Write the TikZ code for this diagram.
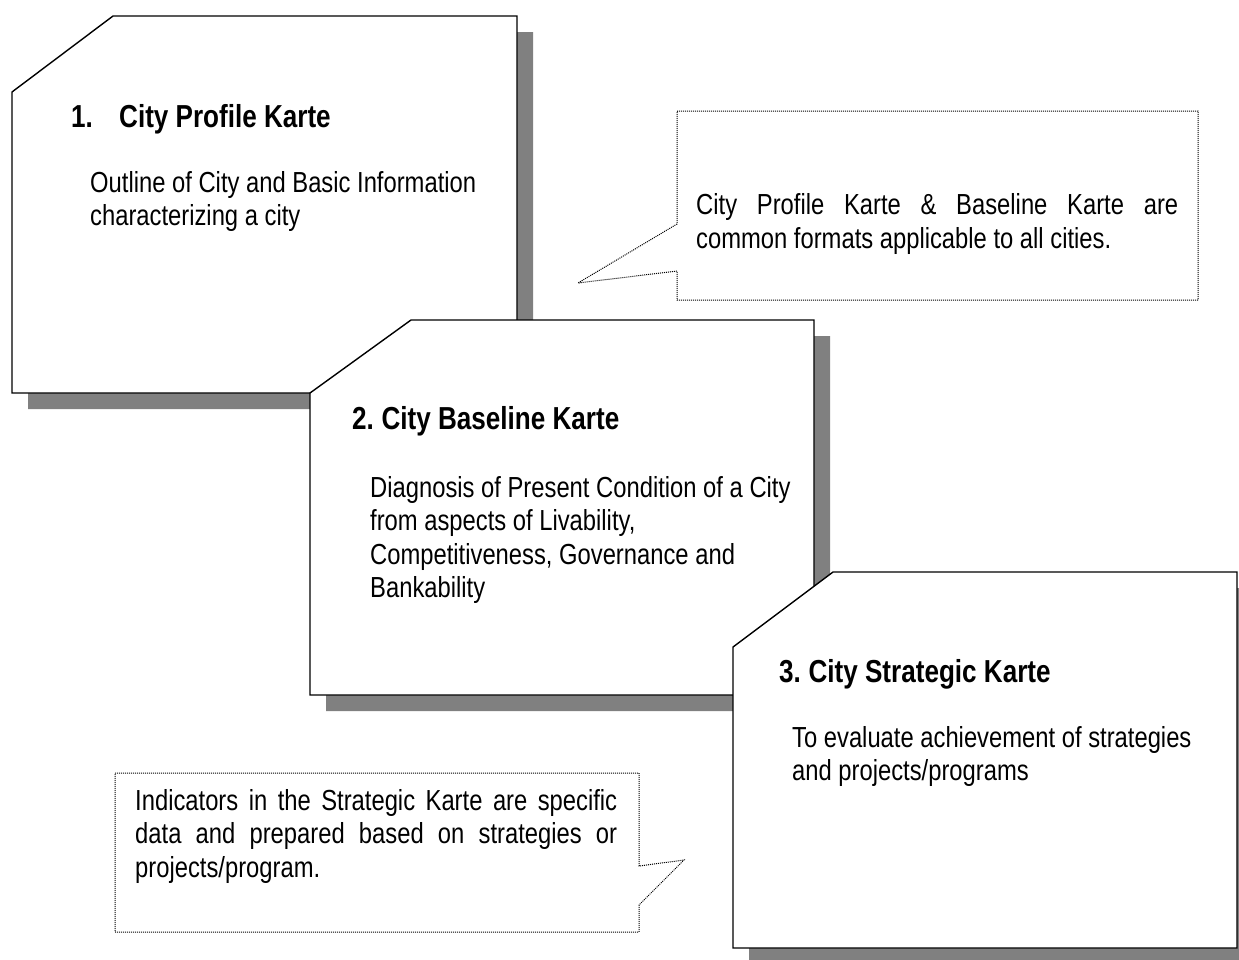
\documentclass[tikz,border=0pt]{standalone}
\usepackage{fontspec}
\setmainfont{Liberation Sans}[FakeStretch=0.82]
\definecolor{shadowgray}{RGB}{128,128,128}
\begin{document}
\begin{tikzpicture}[x=1pt,y=-1pt,
  card/.style={draw=black,line width=1.4pt,fill=white,line join=miter},
  cardshadow/.style={fill=shadowgray,draw=none},
  callout/.style={draw=black,line width=1pt,dash pattern=on 1pt off 1pt,fill=white},
  head/.style={anchor=base west,inner sep=0pt,font=\fontsize{31.8}{36}\selectfont\bfseries},
  body/.style={anchor=base west,inner sep=0pt,font=\fontsize{29}{33.5}\selectfont},
  note/.style={anchor=base west,inner sep=0pt,font=\fontsize{29}{33.5}\selectfont}]
\useasboundingbox (0,0) rectangle (1239,959);
\clip (0,0) rectangle (1239,959);

% card 1: City Profile Karte
\fill[cardshadow] (129,32) -- (533,32) -- (533,409) -- (28,409) -- (28,108) -- cycle;
\draw[card] (113,16) -- (517,16) -- (517,393) -- (12,393) -- (12,92) -- cycle;
\node[head] (h1) at (71,127) {\makebox[48pt][l]{1.}City Profile Karte};
\node[body] (b1a) at (90,192) {Outline of City and Basic Information};
\node[body] (b1b) at (90,225.5) {characterizing a city};

% card 2: City Baseline Karte
\fill[cardshadow] (427,336) -- (830,336) -- (830,711) -- (326,711) -- (326,409) -- cycle;
\draw[card] (411,320) -- (814,320) -- (814,695) -- (310,695) -- (310,393) -- cycle;
\node[head] (h2) at (352,429) {2.\kern-2pt{} City Baseline Karte};
\node[body] (b2a) at (370,497) {Diagnosis of Present Condition of a City};
\node[body] (b2b) at (370,530.5) {from aspects of Livability,};
\node[body] (b2c) at (370,564) {Competitiveness, Governance and};
\node[body] (b2d) at (370,597.5) {Bankability};

% card 3: City Strategic Karte
\fill[cardshadow] (849,588) -- (1253,588) -- (1253,964) -- (749,964) -- (749,663) -- cycle;
\draw[card] (833,572) -- (1237,572) -- (1237,948) -- (733,948) -- (733,647) -- cycle;
\node[head] (h3) at (779,682) {3.\kern-2pt{} City Strategic Karte};
\node[body] (b3a) at (792,747) {To evaluate achievement of strategies};
\node[body] (b3b) at (792,780.5) {and projects/programs};

% callout on common formats
\draw[callout] (677,111) -- (1198,111) -- (1198,300) -- (677,300) -- (677,271)
  -- (578,283) -- (677,224) -- cycle;
\node[note] (n1a) at (696,214.5) {\makebox[482pt][s]{City Profile Karte \& Baseline Karte are}};
\node[note] (n1b) at (696,248) {common formats applicable to all cities.};

% callout on strategic indicators
\draw[callout] (115,773) -- (639,773) -- (639,866) -- (684,860) -- (639,905)
  -- (639,932) -- (115,932) -- cycle;
\node[note] (n2a) at (135,810) {\makebox[482pt][s]{Indicators in the Strategic Karte are specific}};
\node[note] (n2b) at (135,843.5) {\makebox[482pt][s]{data and prepared based on strategies or}};
\node[note] (n2c) at (135,877) {projects/program.};
\end{tikzpicture}
\end{document}
